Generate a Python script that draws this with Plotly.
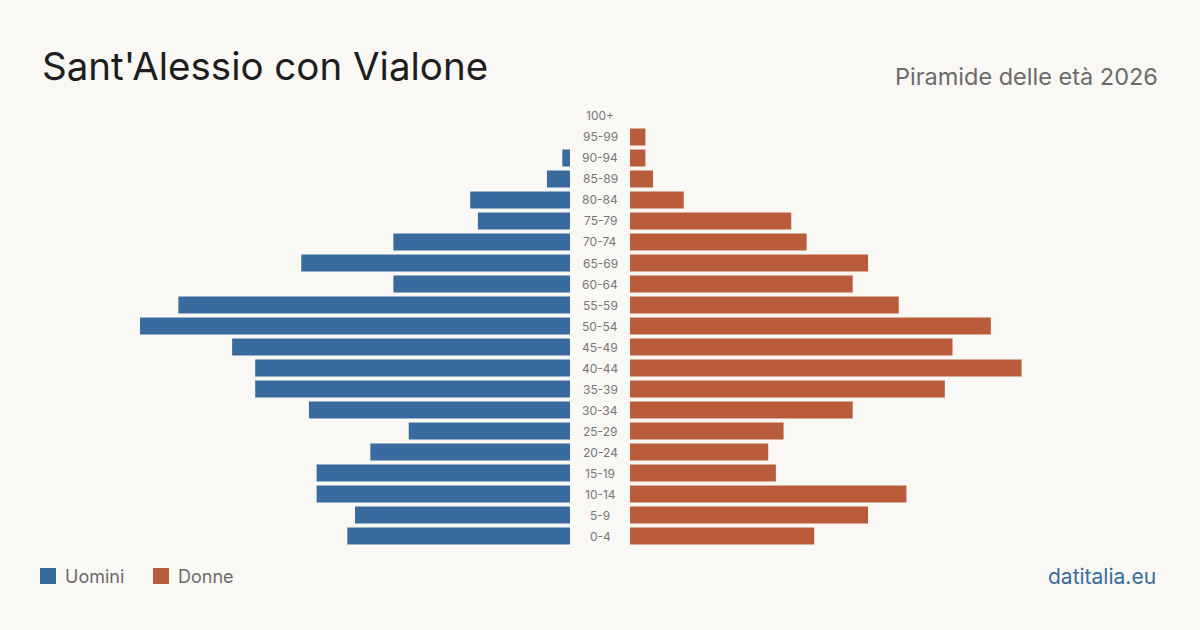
import plotly.graph_objects as go

ages = ["0-4","5-9","10-14","15-19","20-24","25-29","30-34","35-39","40-44","45-49",
        "50-54","55-59","60-64","65-69","70-74","75-79","80-84","85-89","90-94","95-99","100+"]
men = [29, 28, 33, 33, 26, 21, 34, 41, 41, 44, 56, 51, 23, 35, 23, 12, 13, 3, 1, 0, 0]
women = [24, 31, 36, 19, 18, 20, 29, 41, 51, 42, 47, 35, 29, 31, 23, 21, 7, 3, 2, 2, 0]

BLUE = "#3a6b9e"
ORANGE = "#b95c3c"
BG = "#f9f8f4"
FONT = "Inter"

W, H = 1200, 630
vmax = max(max(men), max(women))

fig = go.Figure()
fig.add_trace(go.Bar(y=ages, x=men, orientation="h", marker_color=BLUE,
                     marker_line_width=0,
                     xaxis="x", yaxis="y", showlegend=False, name="Uomini",
                     hovertemplate="%{y}: %{x}<extra>Uomini</extra>"))
fig.add_trace(go.Bar(y=ages, x=women, orientation="h", marker_color=ORANGE,
                     marker_line_width=0,
                     xaxis="x2", yaxis="y", showlegend=False, name="Donne",
                     hovertemplate="%{y}: %{x}<extra>Donne</extra>"))

y0 = (H - 546.5) / H
y1 = (H - 105.5) / H

fig.update_layout(
    width=W, height=H,
    paper_bgcolor=BG, plot_bgcolor=BG,
    margin=dict(l=0, r=0, t=0, b=0),
    bargap=0.19,
    font=dict(family=FONT, color="#666"),
    xaxis=dict(domain=[140 / W, 570 / W], range=[vmax, 0], visible=False, fixedrange=True),
    xaxis2=dict(domain=[630 / W, 1060 / W], range=[0, vmax], visible=False, fixedrange=True),
    yaxis=dict(domain=[y0, y1], visible=False, categoryorder="array", categoryarray=ages,
               range=[-0.5, len(ages) - 0.5], fixedrange=True),
)

annotations = []
for a in ages:
    annotations.append(dict(x=600 / W, xref="paper", y=a, yref="y", text=a, showarrow=False,
                            xanchor="center", yanchor="middle",
                            font=dict(family=FONT, size=12, color="#777")))

annotations.append(dict(x=40 / W, y=(H - 66) / H, xref="paper", yref="paper",
                        text="Sant'Alessio con Vialone", showarrow=False,
                        xanchor="left", yanchor="middle",
                        font=dict(family=FONT, size=38.5, color="#1e1e1e")))
annotations.append(dict(x=1160 / W, y=(H - 76) / H, xref="paper", yref="paper",
                        text="Piramide delle età 2026", showarrow=False,
                        xanchor="right", yanchor="middle",
                        font=dict(family=FONT, size=23.5, color="#6b6b6b")))
annotations.append(dict(x=1158 / W, y=(H - 576) / H, xref="paper", yref="paper",
                        text="datitalia.eu", showarrow=False,
                        xanchor="right", yanchor="middle",
                        font=dict(family=FONT, size=21, color=BLUE)))
annotations.append(dict(x=63 / W, y=(H - 576) / H, xref="paper", yref="paper",
                        text="Uomini", showarrow=False, xanchor="left", yanchor="middle",
                        font=dict(family=FONT, size=18, color="#6b6b6b")))
annotations.append(dict(x=176 / W, y=(H - 576) / H, xref="paper", yref="paper",
                        text="Donne", showarrow=False, xanchor="left", yanchor="middle",
                        font=dict(family=FONT, size=18, color="#6b6b6b")))

shapes = [
    dict(type="rect", xref="paper", yref="paper", x0=40 / W, x1=56 / W,
         y0=(H - 584) / H, y1=(H - 568) / H, fillcolor=BLUE, line=dict(width=0)),
    dict(type="rect", xref="paper", yref="paper", x0=153 / W, x1=169 / W,
         y0=(H - 584) / H, y1=(H - 568) / H, fillcolor=ORANGE, line=dict(width=0)),
]

fig.update_layout(annotations=annotations, shapes=shapes)
fig.write_html("out.html")
